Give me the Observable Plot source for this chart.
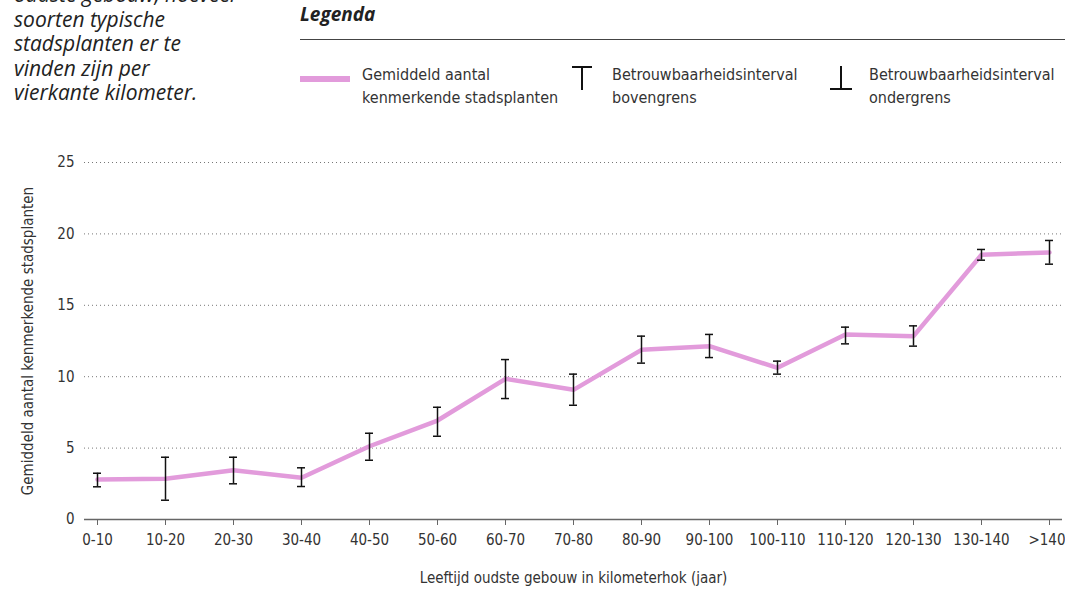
<!DOCTYPE html>
<html>
<head>
<meta charset="utf-8">
<script src="https://cdn.jsdelivr.net/npm/d3@7"></script>
<script src="https://cdn.jsdelivr.net/npm/@observablehq/plot@0.6"></script>
<style>
  html, body { margin: 0; padding: 0; background: #fff; }
  body { width: 1065px; height: 613px; position: relative; overflow: hidden; color: #222; }
  #intro { position: absolute; left: 14px; top: -18px; font-family: "Open Sans", Lato, sans-serif; font-style: italic; font-size: 21px; line-height: 24.5px; color: #222; white-space: nowrap; }
  #legend-title { position: absolute; left: 300px; top: 1px; font-family: "Open Sans", sans-serif; font-weight: bold; font-style: italic; font-size: 19px; color: #222; }
  #legend-rule { position: absolute; left: 300px; top: 39px; width: 765px; height: 1px; background: #444; }
  .leg { position: absolute; top: 63px; font-family: "DejaVu Sans Condensed", "DejaVu Sans", sans-serif; font-size: 16px; line-height: 23px; color: #333; white-space: nowrap; }
  #chart { position: absolute; left: 0; top: 110px; }
</style>
</head>
<body>
<div id="intro">oudste gebouw, hoeveel<br>soorten typische<br>stadsplanten er te<br>vinden zijn per<br>vierkante kilometer.</div>
<div id="legend-title">Legenda</div>
<div id="legend-rule"></div>
<svg style="position:absolute;left:0;top:0" width="1065" height="110">
  <line x1="300" x2="350" y1="79" y2="79" stroke="#e29bdb" stroke-width="6"/>
  <line x1="572" x2="592" y1="67" y2="67" stroke="#111" stroke-width="2"/>
  <line x1="582" x2="582" y1="67" y2="90" stroke="#111" stroke-width="2"/>
  <line x1="830" x2="852" y1="89" y2="89" stroke="#111" stroke-width="2"/>
  <line x1="841" x2="841" y1="66" y2="89" stroke="#111" stroke-width="2"/>
</svg>
<div class="leg" style="left:362px">Gemiddeld aantal<br>kenmerkende stadsplanten</div>
<div class="leg" style="left:612px">Betrouwbaarheidsinterval<br>bovengrens</div>
<div class="leg" style="left:869px">Betrouwbaarheidsinterval<br>ondergrens</div>
<div id="chart"></div>
<script>
const categories = ["0-10","10-20","20-30","30-40","40-50","50-60","60-70","70-80","80-90","90-100","100-110","110-120","120-130","130-140",">140"];
const means = [2.8, 2.85, 3.45, 2.92, 5.13, 6.93, 9.85, 9.08, 11.88, 12.14, 10.62, 12.96, 12.84, 18.54, 18.7];
const upper = [3.24, 4.36, 4.36, 3.62, 6.04, 7.86, 11.2, 10.18, 12.84, 12.96, 11.09, 13.47, 13.56, 18.91, 19.54];
const lower = [2.29, 1.35, 2.5, 2.31, 4.15, 5.83, 8.47, 8.0, 10.95, 11.34, 10.18, 12.3, 12.14, 18.16, 17.88];
const yTicks = [0, 5, 10, 15, 20, 25];
const xLabel = "Leeftijd oudste gebouw in kilometerhok (jaar)";
const yLabel = "Gemiddeld aantal kenmerkende stadsplanten";

const data = categories.map((c, i) => ({cat: c, mean: means[i], hi: upper[i], lo: lower[i]}));
const font = "'DejaVu Sans Condensed', 'DejaVu Sans', sans-serif";
const lastCat = categories[categories.length - 1];

const chart = Plot.plot({
  width: 1065,
  height: 503,
  marginLeft: 84,
  marginRight: 3,
  marginTop: 52,
  marginBottom: 94,
  style: {fontFamily: font, fontSize: "15px", color: "#333", background: "transparent"},
  x: {type: "point", domain: categories, padding: 0.19},
  y: {domain: [0, 25]},
  marks: [
    Plot.gridY(yTicks.filter(d => d > 0), {stroke: "#777", strokeOpacity: 1, strokeWidth: 1, strokeDasharray: "1,3"}),
    Plot.ruleY([0], {stroke: "#666", strokeWidth: 1.5}),
    Plot.axisX(categories, {tickSize: 6, tickPadding: 9, stroke: "#666", fill: "#333", fontSize: 15,
      tickFormat: d => d === lastCat ? "" : d,
      label: xLabel, labelAnchor: "center", labelArrow: "none", labelOffset: 63}),
    Plot.axisX([lastCat], {tickSize: 0, tickPadding: 15, fill: "#333", fontSize: 15, textAnchor: "end", dx: 16, label: null}),
    Plot.axisY(yTicks, {tickSize: 0, tickPadding: 10, fill: "#333", fontSize: 15,
      label: yLabel, labelAnchor: "center", labelArrow: "none", labelOffset: 62}),
    Plot.line(data, {x: "cat", y: "mean", stroke: "#e29bdb", strokeWidth: 4.5}),
    Plot.ruleX(data, {x: "cat", y1: "lo", y2: "hi", stroke: "#111", strokeWidth: 1.5}),
    Plot.ruleY(data, {x1: "cat", x2: "cat", y: "hi", stroke: "#111", strokeWidth: 1.5, insetLeft: -4, insetRight: -4}),
    Plot.ruleY(data, {x1: "cat", x2: "cat", y: "lo", stroke: "#111", strokeWidth: 1.5, insetLeft: -4, insetRight: -4})
  ]
});
document.getElementById("chart").appendChild(chart);
</script>
</body>
</html>
